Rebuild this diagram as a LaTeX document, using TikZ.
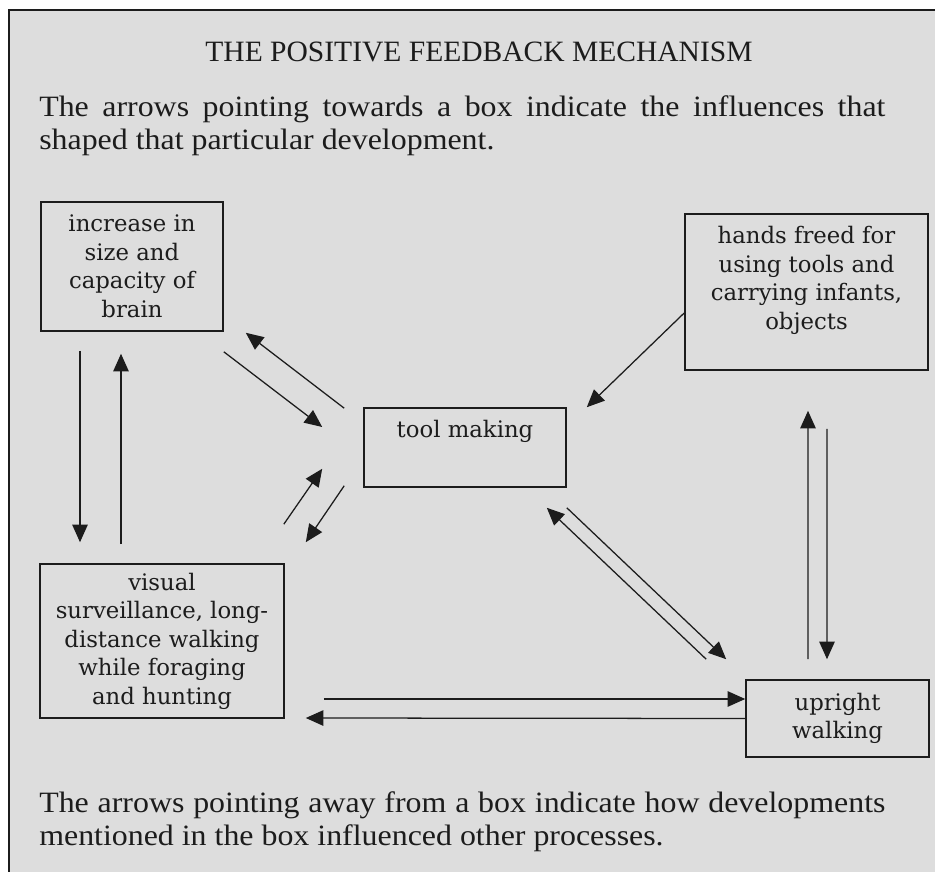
\documentclass[tikz,border=0pt]{standalone}
\usepackage{fontspec}
\setmainfont{Liberation Serif}
\newfontfamily\parafont[FakeStretch=1.08]{Liberation Serif}
\newfontfamily\boxfont{DejaVu Serif}
\usepackage{tikz}
\usetikzlibrary{calc, arrows.meta}
\usepackage{xcolor}
\definecolor{panel}{RGB}{221, 221, 221}
\definecolor{ink}{RGB}{28, 28, 28}
\setlength{\parindent}{0pt}

\begin{document}
\begin{tikzpicture}[x=0.025cm, y=-0.025cm,
  devbox/.style={draw=ink, line width=1.1pt, align=center, inner sep=0pt, text=ink,
    font=\boxfont\fontsize{16.2}{20.3}\selectfont},
  link/.style={-{Triangle[length=12.5pt, width=11pt]}, line width=0.9pt, draw=ink},
  note/.style={anchor=north west, inner sep=0pt, text width=21.15cm, align=justify, text=ink,
    font=\parafont\fontsize{21}{23.5}\selectfont}]
  \useasboundingbox (0,0) rectangle (935,872);
  \clip (0,0) rectangle (935,872);
  % panel runs off the right and bottom
  \draw[line width=1.6pt, ink, fill=panel] (9,10) rectangle (960,900);
  \node[anchor=base, text=ink, font=\fontsize{21}{24}\selectfont] (title) at (479,62)
    {THE POSITIVE FEEDBACK MECHANISM};
  \node[note] (towards) at (39,95)
    {The arrows pointing towards a box indicate the influences that\linebreak
     shaped that particular development.};
  \node[note] (away) at (39,791)
    {The arrows pointing away from a box indicate how developments\linebreak
     mentioned in the box influenced other processes.};
  % boxes
  \node[devbox, minimum width=4.55cm, minimum height=3.225cm] (brain) at (132,266.5)
    {increase in\\size and\\capacity of\\brain};
  \node[devbox, minimum width=6.075cm, minimum height=3.9cm] (hands) at (806.5,292)
    {hands freed for\\using tools and\\carrying infants,\\objects\\\mbox{}};
  \node[devbox, minimum width=5.05cm, minimum height=1.975cm] (tool) at (465,447.5)
    {tool making\\\strut};
  \node[devbox, minimum width=6.1cm, minimum height=3.85cm] (visual) at (162,641)
    {visual\\surveillance, long-\\distance walking\\while foraging\\and hunting};
  \node[devbox, minimum width=4.575cm, minimum height=1.925cm] (upright) at (837.5,718.5)
    {upright\\walking};
  % brain <-> visual
  \draw[link] ($(brain.south)+(-52,19)$) -- ($(visual.north)+(-82,-21)$);
  \draw[link] ($(visual.north)+(-41,-19)$) -- ($(brain.south)+(-11,22)$);
  % brain <-> tool
  \draw[link] ($(brain.south east)+(0,20)$) -- ($(tool.west)+(-41,-20.5)$);
  \draw[link] ($(tool.north west)+(-19,1)$) -- ($(brain.south east)+(22,1)$);
  % visual <-> tool
  \draw[link] ($(visual.north east)+(-1,-39)$) -- ($(tool.south west)+(-41,-19)$);
  \draw[link] ($(tool.south west)+(-19,-2)$) -- ($(visual.north east)+(21,-21)$);
  % hands -> tool
  \draw[link] ($(hands.west)+(0,21)$) -- ($(tool.north east)+(20,0)$);
  % hands <-> upright
  \draw[link] ($(upright.north)+(-29.5,-20)$) -- ($(hands.south)+(1.5,40)$);
  \draw[link] ($(hands.south)+(20.5,58)$) -- ($(upright.north)+(-10.5,-20)$);
  % tool <-> upright
  \draw[link] ($(tool.south east)+(0,20)$) -- ($(upright.north west)+(-19,-20)$);
  \draw[link] ($(upright.north west)+(-39,-20)$) -- ($(tool.south east)+(-20,20)$);
  % visual <-> upright
  \draw[link] ($(visual.east)+(39,58)$) -- ($(upright.west)+(0,-19.5)$);
  \draw[link] ($(upright.west)+(0,0)$) -- ($(visual.east)+(21,77)$);
\end{tikzpicture}
\end{document}
